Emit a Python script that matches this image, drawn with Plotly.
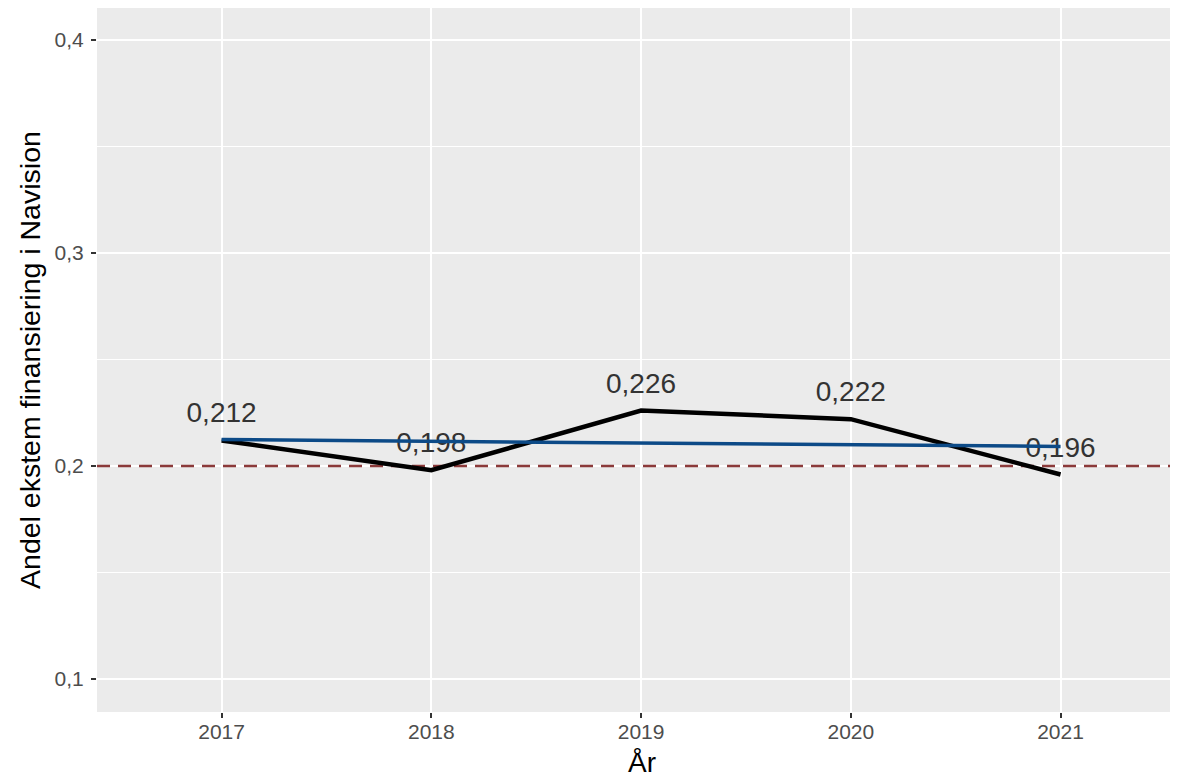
import plotly.graph_objects as go

years = [2017, 2018, 2019, 2020, 2021]
andel = [0.212, 0.198, 0.226, 0.222, 0.196]
labels = ["0,212", "0,198", "0,226", "0,222", "0,196"]
trend_years = [2017, 2021]
trend_vals = [0.2124, 0.2092]
ref_level = 0.2
ytick_vals = [0.1, 0.2, 0.3, 0.4]
ytick_text = ["0,1", "0,2", "0,3", "0,4"]
x_range = [2016.406, 2021.56]
y_range = [0.08451, 0.41502]

FONT = "Liberation Sans, Arial, sans-serif"

fig = go.Figure()

# labels (drawn below the lines)
fig.add_trace(go.Scatter(
    x=years, y=andel, mode="markers+text", text=labels,
    textposition="top center",
    marker=dict(size=16, opacity=0),
    textfont=dict(family=FONT, size=28, color="#333333"),
    hoverinfo="skip", showlegend=False, cliponaxis=False,
))

fig.add_trace(go.Scatter(
    x=x_range, y=[ref_level, ref_level], mode="lines",
    line=dict(color="#8B3A3A", width=2.5, dash="13px,8px"),
    hoverinfo="skip", showlegend=False,
))

fig.add_trace(go.Scatter(
    x=years, y=andel, mode="lines",
    line=dict(color="black", width=4.5),
    showlegend=False,
))

fig.add_trace(go.Scatter(
    x=trend_years, y=trend_vals, mode="lines",
    line=dict(color="#0C4A87", width=3.5),
    showlegend=False,
))

fig.update_layout(
    width=1170, height=768,
    margin=dict(l=89, r=0, t=0, b=64, autoexpand=False),
    paper_bgcolor="white", plot_bgcolor="#EBEBEB",
    font=dict(family=FONT),
    showlegend=False,
    xaxis=dict(
        range=x_range, automargin=False,
        tickvals=years, ticktext=[str(y) for y in years],
        showgrid=True, gridcolor="white", gridwidth=2,
        zeroline=False, showline=False,
        ticks="outside", ticklen=5, tickwidth=2, tickcolor="#333333",
        ticklabelstandoff=-4,
        tickfont=dict(family=FONT, size=21, color="#4D4D4D"),
    ),
    yaxis=dict(
        range=y_range, automargin=False,
        tickvals=ytick_vals, ticktext=ytick_text,
        showgrid=True, gridcolor="white", gridwidth=2,
        minor=dict(tickvals=[0.15, 0.25, 0.35], showgrid=True, gridcolor="white", gridwidth=1, ticks=""),
        zeroline=False, showline=False,
        ticks="outside", ticklen=5, tickwidth=2, tickcolor="#333333",
        ticklabelstandoff=3,
        tickfont=dict(family=FONT, size=21, color="#4D4D4D"),
    ),
    annotations=[
        dict(text="År", xref="paper", yref="paper", x=0.504, y=-0.072,
             xanchor="center", yanchor="middle", showarrow=False,
             font=dict(family=FONT, size=28, color="black")),
        dict(text="Andel ekstem finansiering i Navision", xref="paper", yref="paper",
             x=-0.062, y=0.5, xanchor="center", yanchor="middle", textangle=-90,
             showarrow=False, font=dict(family=FONT, size=28.5, color="black")),
    ],
)

fig.write_html("out.html")
